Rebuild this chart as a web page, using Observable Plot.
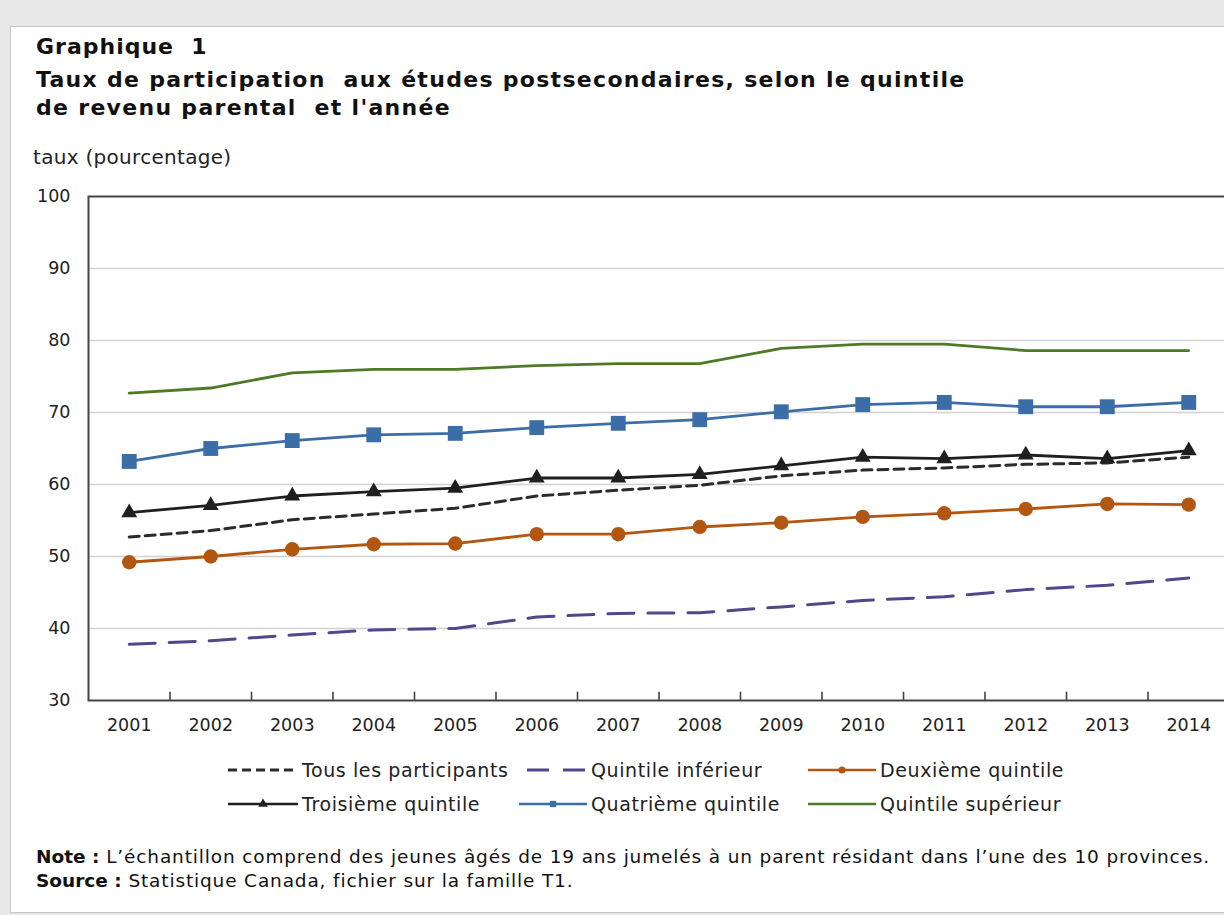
<!DOCTYPE html>
<html>
<head>
<meta charset="utf-8">
<script src="https://cdn.jsdelivr.net/npm/d3@7"></script>
<script src="https://cdn.jsdelivr.net/npm/@observablehq/plot@0.6"></script>
<style>
  html, body { margin: 0; padding: 0; overflow: hidden; width: 1224px; height: 915px; background: #e8e8e8; }
  #box { position: absolute; left: 10px; top: 26px; width: 1240px; height: 885px; background: #fff; border: 1px solid #c4c4c4; }
  .t { position: absolute; white-space: pre; color: #111; font-family: "DejaVu Sans", Verdana, sans-serif; }
  .bold { font-weight: bold; }
  #chart { position: absolute; left: 0; top: 180px; width: 1240px; }
  #chart svg { max-width: none !important; }
  .leg { position: absolute; display: flex; align-items: center; height: 28px; font-family: "DejaVu Sans", sans-serif; font-size: 19px; letter-spacing: 0.6px; color: #222; white-space: pre; }
  .leg svg { margin-right: 4px; }
</style>
</head>
<body>
<div id="box"></div>
<div class="t bold" style="left:36px; top:33px; font-size:22px; letter-spacing:1px; line-height:28px;">Graphique  1</div>
<div class="t bold" style="left:36px; top:66px; font-size:22px; letter-spacing:1.3px; line-height:28px;">Taux de participation  aux études postsecondaires, selon le quintile
de revenu parental  et l'année</div>
<div class="t" style="left:33px; top:143px; font-size:20px; letter-spacing:0.3px; line-height:28px; color:#222;">taux (pourcentage)</div>
<div id="chart"></div>
<div id="legend"></div>
<div class="t" style="left:36px; top:845px; font-size:18.5px; letter-spacing:0.85px; line-height:24px; color:#111;"><b style="letter-spacing:0">Note :</b> L’échantillon comprend des jeunes âgés de 19 ans jumelés à un parent résidant dans l’une des 10 provinces.
<b style="letter-spacing:0">Source :</b> Statistique Canada, fichier sur la famille T1.</div>
<script>
const years = [2001, 2002, 2003, 2004, 2005, 2006, 2007, 2008, 2009, 2010, 2011, 2012, 2013, 2014];
const yTicks = [30, 40, 50, 60, 70, 80, 90, 100];
const seriesNames = ["Tous les participants", "Quintile inférieur", "Deuxième quintile", "Troisième quintile", "Quatrième quintile", "Quintile supérieur"];
const tous      = [52.7, 53.6, 55.1, 55.9, 56.7, 58.4, 59.2, 59.9, 61.2, 62.0, 62.3, 62.8, 63.0, 63.8];
const inferieur = [37.8, 38.3, 39.1, 39.8, 40.0, 41.6, 42.1, 42.2, 43.0, 43.9, 44.4, 45.4, 46.0, 47.0];
const deuxieme  = [49.2, 50.0, 51.0, 51.7, 51.8, 53.1, 53.1, 54.1, 54.7, 55.5, 56.0, 56.6, 57.3, 57.2];
const troisieme = [56.1, 57.1, 58.4, 59.0, 59.5, 60.9, 60.9, 61.4, 62.6, 63.8, 63.6, 64.1, 63.6, 64.7];
const quatrieme = [63.2, 65.0, 66.1, 66.9, 67.1, 67.9, 68.5, 69.0, 70.1, 71.1, 71.4, 70.8, 70.8, 71.4];
const superieur = [72.7, 73.4, 75.5, 76.0, 76.0, 76.5, 76.8, 76.8, 78.9, 79.5, 79.5, 78.6, 78.6, 78.6];

const values = [tous, inferieur, deuxieme, troisieme, quatrieme, superieur];
const styles = [
  {stroke: "#2b2b2b", dash: "10,6", width: 3, symbol: null},
  {stroke: "#54468a", dash: "26,14", width: 3, symbol: null},
  {stroke: "#b25611", dash: null, width: 2.8, symbol: "circle", r: 7.2},
  {stroke: "#1f1f1f", dash: null, width: 2.8, symbol: "triangle", r: 5.9},
  {stroke: "#3b6ea6", dash: null, width: 2.8, symbol: "square", r: 8.4},
  {stroke: "#4d7a26", dash: null, width: 2.8, symbol: null}
];
const tables = values.map(v => years.map((yr, i) => ({year: yr, value: v[i]})));
const boundaries = years.slice(0, -1).map(yr => yr + 0.5);

const marks = [
  Plot.ruleY(yTicks.slice(1, -1), {stroke: "#d0d0d0", strokeWidth: 1.5}),
  Plot.ruleX(boundaries, {y1: 30, y2: 31.15, stroke: "#444", strokeWidth: 1.6}),
  Plot.frame({stroke: "#444", strokeWidth: 2})
];
tables.forEach((t, k) => {
  const s = styles[k];
  marks.push(Plot.line(t, {x: "year", y: "value", stroke: s.stroke, strokeWidth: s.width, strokeDasharray: s.dash, curve: "linear"}));
});
tables.forEach((t, k) => {
  const s = styles[k];
  if (s.symbol) marks.push(Plot.dot(t, {x: "year", y: "value", symbol: s.symbol, r: s.r, fill: s.stroke, stroke: "none"}));
});

const chart = Plot.plot({
  width: 1239,
  height: 565,
  marginTop: 16,
  marginBottom: 45,
  marginLeft: 88,
  marginRight: 10,
  style: {fontFamily: "DejaVu Sans, sans-serif", fontSize: "17.5px", color: "#222", background: "transparent", overflow: "visible"},
  x: {domain: [years[0] - 0.5, years[years.length - 1] + 0.5], ticks: years, tickFormat: d => String(d), tickSize: 0, tickPadding: 18, label: null},
  y: {domain: [30, 100], ticks: yTicks, tickSize: 0, tickPadding: 18, label: null},
  marks
});
chart.style.maxWidth = "none";
chart.style.width = "1239px";
chart.style.height = "565px";
document.getElementById("chart").appendChild(chart);

// legend
const legendPos = [
  {x: 228, y: 756, w: 70}, {x: 527, y: 756, w: 60}, {x: 808, y: 756, w: 68},
  {x: 228, y: 790, w: 70}, {x: 519, y: 790, w: 68}, {x: 808, y: 790, w: 68}
];
const leg = document.getElementById("legend");
seriesNames.forEach((name, k) => {
  const s = styles[k], p = legendPos[k];
  const div = document.createElement("div");
  div.className = "leg";
  div.style.left = p.x + "px";
  div.style.top = p.y + "px";
  const ns = "http://www.w3.org/2000/svg";
  const svg = document.createElementNS(ns, "svg");
  svg.setAttribute("width", p.w);
  svg.setAttribute("height", 14);
  const line = document.createElementNS(ns, "line");
  line.setAttribute("x1", 0); line.setAttribute("x2", p.w);
  line.setAttribute("y1", 7); line.setAttribute("y2", 7);
  line.setAttribute("stroke", s.stroke);
  line.setAttribute("stroke-width", s.dash ? 3 : 2.5);
  if (k === 0) line.setAttribute("stroke-dasharray", "9,5");
  if (k === 1) line.setAttribute("stroke-dasharray", "22,14");
  svg.appendChild(line);
  if (s.symbol) {
    const sym = {circle: d3.symbolCircle, triangle: d3.symbolTriangle, square: d3.symbolSquare}[s.symbol];
    const path = document.createElementNS(ns, "path");
    path.setAttribute("d", d3.symbol(sym, 40)());
    path.setAttribute("transform", `translate(${p.w / 2},7)`);
    path.setAttribute("fill", s.stroke);
    svg.appendChild(path);
  }
  div.appendChild(svg);
  div.appendChild(document.createTextNode(name));
  leg.appendChild(div);
});
</script>
</body>
</html>
